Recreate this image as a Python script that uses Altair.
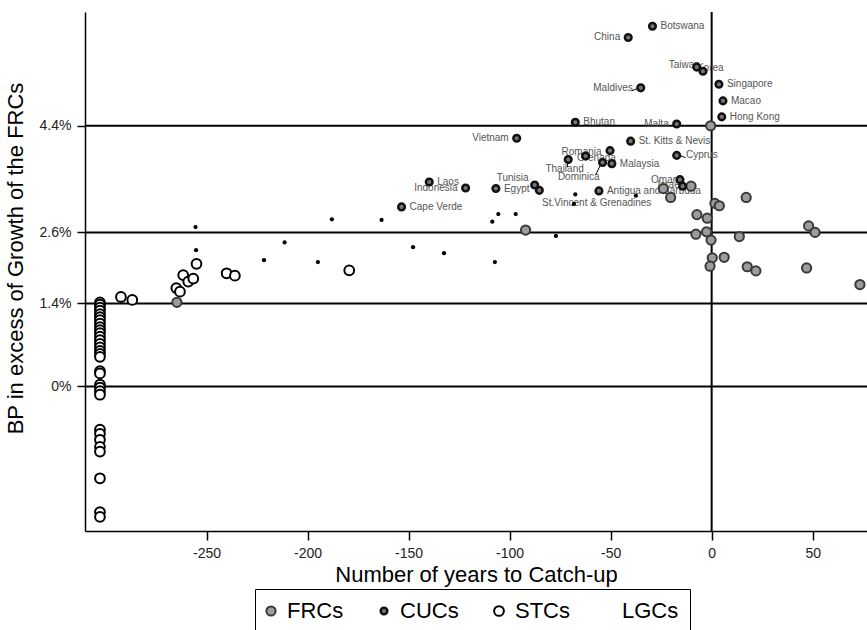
import altair as alt
import pandas as pd

FONT = "Liberation Sans"

# ---------------- data ----------------
# Frontier-runner countries (grey discs)
frc_x = [-0.5, -23.9, -20.3, -10.2, 17.1, 1.6, 3.8, -7.3, -2.2, 48.0, 51.2, -7.8,
         -2.5, -0.3, 13.7, 0.3, 6.2, -0.8, 17.6, 21.9, 47.0, 73.4, -92.1, -264.7]
frc_y = [4.40, 3.34, 3.19, 3.38, 3.19, 3.09, 3.05, 2.90, 2.84, 2.71, 2.60, 2.57,
         2.61, 2.47, 2.53, 2.17, 2.18, 2.03, 2.02, 1.95, 2.00, 1.72, 2.64, 1.42]

# Catching-up countries (ringed dots, labelled)
cuc_names = ["Botswana", "China", "Taiwan", "Korea", "Maldives", "Singapore", "Macao",
             "Hong Kong", "Bhutan", "Malta", "Vietnam", "St. Kitts & Nevis", "Romania",
             "Grenada", "Thailand", "Dominica", "Malaysia", "Cyprus", "Oman", "Israel",
             "Laos", "Indonesia", "Egypt", "Tunisia", "", "Antigua and Barbuda", "Cape Verde"]
cuc_x = [-29.3, -41.3, -7.4, -4.3, -35.1, 3.6, 5.6, 5.0, -67.5, -17.3, -96.5, -40.1, -50.3,
         -62.4, -71.0, -54.0, -49.4, -17.3, -15.7, -14.4, -139.8, -121.8, -106.8, -87.6,
         -85.3, -55.8, -153.5]
cuc_y = [6.08, 5.89, 5.39, 5.32, 5.04, 5.10, 4.82, 4.55, 4.46, 4.43, 4.19, 4.14, 3.98,
         3.89, 3.83, 3.78, 3.76, 3.90, 3.49, 3.38, 3.45, 3.35, 3.34, 3.40, 3.31, 3.30, 3.03]
# where the name sits: r = right of the dot, l = left of the dot, c = own anchor below
cuc_side = ["r", "l", "c", "c", "l", "r", "r", "r", "r", "l", "l", "r", "c",
            "c", "c", "c", "r", "c", "c", "c", "r", "l", "r", "c", "n", "r", "r"]

# names that sit away from their dot (anchor in data units)
cust_names = ["Taiwan", "Korea", "Romania", "Grenada", "Thailand", "Dominica", "Cyprus",
              "Oman", "Israel", "Tunisia", "St.Vincent & Grenadines"]
cust_x = [-5.8, -7.3, -54.5, -66.7, -72.8, -65.8, -12.7, -16.5, -14.7, -98.5, -56.9]
cust_y = [5.43, 5.37, 3.96, 3.85, 3.67, 3.54, 3.90, 3.48, 3.40, 3.52, 3.09]
cust_align = ["right", "left", "right", "left", "center", "center", "left",
              "right", "right", "center", "center"]

# short pointer lines from a dot towards its displaced name
ptr_x = [-35.8, -71.0, -54.6, -15.8]
ptr_y = [5.04, 3.82, 3.77, 3.90]
ptr_x2 = [-39.6, -71.5, -57.4, -12.9]
ptr_y2 = [4.99, 3.70, 3.57, 3.86]

# Slow-to-catch-up countries (hollow rings)
stc_x = [-292.4, -286.8, -265.0, -263.2, -261.6, -259.1, -256.6, -255.0, -240.1, -236.0,
         -179.4,
         -302.8, -302.8, -302.8, -302.8, -302.8, -302.8, -302.8, -302.8, -302.8, -302.8,
         -302.8, -302.8, -302.8, -302.8, -302.8, -302.8, -302.8, -302.8, -302.8, -302.8,
         -302.8, -302.8, -302.8, -302.8, -302.8, -302.8, -302.8, -302.8, -302.8, -302.8,
         -302.8, -302.8]
stc_y = [1.51, 1.46, 1.66, 1.60, 1.88, 1.77, 1.82, 2.07, 1.91, 1.87,
         1.96,
         1.42, 1.38, 1.33, 1.28, 1.22, 1.17, 1.12, 1.06, 1.00, 0.95,
         0.90, 0.84, 0.78, 0.72, 0.66, 0.60, 0.55, 0.50, 0.26, 0.22,
         0.03, -0.02, -0.08, -0.14, -0.73, -0.80, -0.90, -1.02, -1.10, -1.55,
         -2.12, -2.20]

# Lagging countries (small black points)
lgc_x = [-255.5, -255.2, -211.4, -221.6, -194.9, -188.0, -163.4, -147.8, -132.5, -107.3,
         -108.6, -105.6, -97.0, -77.1, -67.5, -68.2, -37.5]
lgc_y = [2.69, 2.30, 2.43, 2.13, 2.10, 2.82, 2.81, 2.35, 2.25, 2.10,
         2.78, 2.91, 2.91, 2.54, 3.24, 3.08, 3.22]

ref_lines = [0, 1.4, 2.6, 4.4]
x_ticks = [-250, -200, -150, -100, -50, 0, 50]
groups = ["FRCs", "CUCs", "STCs", "LGCs"]

# ---------------- tables ----------------
rows = []
for x, y in zip(stc_x, stc_y):
    rows.append({"x": x, "y": y, "group": "STCs"})
for x, y in zip(lgc_x, lgc_y):
    rows.append({"x": x, "y": y, "group": "LGCs"})
for x, y in zip(frc_x, frc_y):
    rows.append({"x": x, "y": y, "group": "FRCs"})
for x, y in zip(cuc_x, cuc_y):
    rows.append({"x": x, "y": y, "group": "CUCs"})
pts = pd.DataFrame(rows)
pts["ord"] = range(len(pts))

lab = pd.DataFrame({"name": cuc_names, "x": cuc_x, "y": cuc_y, "side": cuc_side})
cust = pd.DataFrame({"name": cust_names, "x": cust_x, "y": cust_y, "align": cust_align})
ptr = pd.DataFrame({"x": ptr_x, "y": ptr_y, "x2": ptr_x2, "y2": ptr_y2})

xs = alt.Scale(domain=[-310.2, 76.9], nice=False, zero=False)
ys = alt.Scale(domain=[-2.44, 6.32], nice=False, zero=False)

leg = alt.Legend(title=None, orient="none", legendX=170, legendY=577,
                 direction="horizontal", labelFont=FONT, labelFontSize=22,
                 labelColor="black", strokeColor="black", padding=11,
                 symbolOffset=-6, columnPadding=31, labelOffset=5, fillColor="white",
                 symbolOpacity={"expr": "datum.value === 'LGCs' ? 0 : 1"})

x_axis = alt.Axis(values=x_ticks, labelExpr="'' + datum.value", grid=False,
                  domainColor="black", domainWidth=1.5, tickColor="black",
                  tickSize=9, tickWidth=1.5, labelFont=FONT, labelFontSize=14,
                  labelColor="#222222", labelPadding=6, titleFont=FONT,
                  titleFontSize=22, titleFontWeight="normal", titleColor="black",
                  titlePadding=4)
y_axis = alt.Axis(values=ref_lines, labelExpr="datum.value + '%'", grid=False,
                  domainColor="black", domainWidth=1.5, tickColor="black",
                  tickSize=8, tickWidth=1.5, labelFont=FONT, labelFontSize=14,
                  labelColor="#222222", labelPadding=6, titleFont=FONT,
                  titleFontSize=22, titleFontWeight="normal", titleColor="black",
                  titlePadding=12, titleY=246)

points = alt.Chart(pts).mark_circle(opacity=1).encode(
    x=alt.X("x:Q", scale=xs, axis=x_axis, title="Number of years to Catch-up"),
    y=alt.Y("y:Q", scale=ys, axis=y_axis, title="BP in excess of Growth of the FRCs"),
    fill=alt.Fill("group:N", scale=alt.Scale(domain=groups,
                  range=["#9c9c9c", "#777777", "#ffffff", "#000000"]), legend=leg),
    stroke=alt.Stroke("group:N", scale=alt.Scale(domain=groups,
                      range=["#3a3a3a", "#111111", "#000000", "#000000"]), legend=leg),
    size=alt.Size("group:N", scale=alt.Scale(type="ordinal", domain=groups,
                  range=[85, 44, 95, 18]), legend=leg),
    strokeWidth=alt.StrokeWidth("group:N", scale=alt.Scale(type="ordinal", domain=groups,
                                range=[2, 2.5, 2, 0]), legend=leg),
    order=alt.Order("ord:Q"),
)

hl = alt.Chart(pd.DataFrame({"v": ref_lines})).mark_rule(color="black", strokeWidth=2).encode(
    y=alt.Y("v:Q", scale=ys))
vl = alt.Chart(pd.DataFrame({"v": [0]})).mark_rule(color="black", strokeWidth=2).encode(
    x=alt.X("v:Q", scale=xs))
pointers = alt.Chart(ptr).mark_rule(color="black", strokeWidth=1).encode(
    x=alt.X("x:Q", scale=xs), y=alt.Y("y:Q", scale=ys), x2="x2:Q", y2="y2:Q")

txt_style = dict(font=FONT, fontSize=10, color="#555555", baseline="middle")
lab_r = alt.Chart(lab).transform_filter("datum.side == 'r'").mark_text(
    align="left", dx=8, **txt_style).encode(
    x=alt.X("x:Q", scale=xs), y=alt.Y("y:Q", scale=ys), text="name:N")
lab_l = alt.Chart(lab).transform_filter("datum.side == 'l'").mark_text(
    align="right", dx=-8, **txt_style).encode(
    x=alt.X("x:Q", scale=xs), y=alt.Y("y:Q", scale=ys), text="name:N")
cust_layers = []
for a in ["left", "right", "center"]:
    cust_layers.append(
        alt.Chart(cust).transform_filter(f"datum.align == '{a}'").mark_text(
            align=a, **txt_style).encode(
            x=alt.X("x:Q", scale=xs), y=alt.Y("y:Q", scale=ys), text="name:N"))

chart = alt.layer(hl, vl, lab_r, lab_l, *cust_layers, pointers, points).properties(
    width=782, height=519,
    autosize=alt.AutoSizeParams(type="none"),
    padding={"left": 85, "top": 12, "right": 0, "bottom": 99},
    background="white",
).configure_view(stroke=None)

chart.save("out.html", embed_options={"renderer": "svg", "actions": False})
